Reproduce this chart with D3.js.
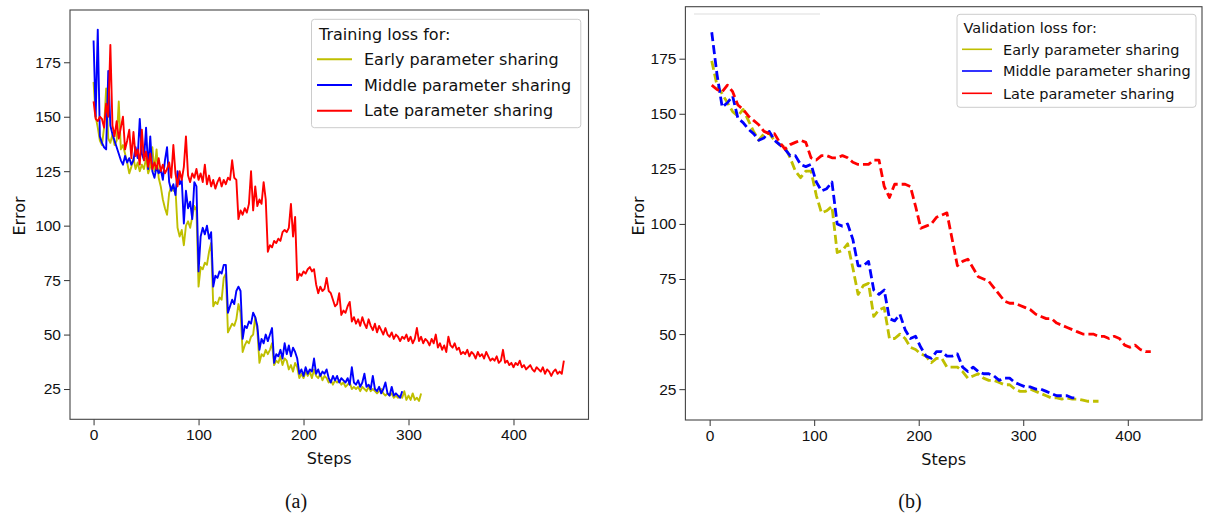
<!DOCTYPE html>
<html lang="en">
<head>
<meta charset="utf-8">
<script src="https://d3js.org/d3.v7.min.js"></script>
<style>
  body { margin: 0; background: #fff; }
  svg { display: block; font-family: "DejaVu Sans", sans-serif; }
  .tick text { font-size: 15.5px; fill: #111; }
  .tick line { stroke: #333; }
  .frame { fill: none; stroke: #444; stroke-width: 1.1; }
  .axlabel { font-size: 16px; fill: #111; }
  .caption { font-family: "Liberation Serif", serif; font-size: 20px; fill: #111; }
</style>
</head>
<body>
<svg id="chart" width="1205" height="516"></svg>
<script>
// ---- data ----
var seriesNames = ["Early parameter sharing", "Middle parameter sharing", "Late parameter sharing"];
var seriesColors = ["#bfbf00", "#0000ff", "#ff0000"];
var yTicks = [25, 50, 75, 100, 125, 150, 175];
var xTicks = [0, 100, 200, 300, 400];

// training loss, one value every 2 steps starting at step 0
var trainEvery = 2;
var trainEarly = [166,150,145,139,137,145,163,140,138,142,137,139,157,135,137,133,129,124,127,131,
  126,129,125,128,126,131,124,127,136,125,135,122,118,112,108,105,115,118,116,117,
  99,95,98,91,100,102,99,104,109,107,72,81,80,83,82,88,92,63,65,64,
  67,66,76,78,51,53,55,54,57,64,60,42,45,47,46,49,50,58,52,37,
  41,40,43,41,43,46,36,38,37,40,36,39,38,34,36,33,37,35,30,32,
  30,33,31,33,30,34,31,30,32,29,31,30,28,29,27,29,28,29,27,28,
  26,27,28,25,26,25,26,24,26,25,24,26,24,25,24,23,24,25,23,22,
  23,22,23,21,22,21,22,21,24,20,22,20,23,20,21,19.5,23];
var trainMiddle = [185,150,190,141,138,136,135,171,146,142,139,136,133,130,128,132,129,131,128,130,
  136,131,149,133,130,145,126,141,125,122,127,124,126,121,130,136,120,116,119,114,
  125,119,121,101,116,108,111,103,120,118,79,95,99,96,100,94,97,72,77,76,
  79,78,82,82,60,63,66,64,70,72,70,48,54,53,56,55,60,58,54,43,
  48,46,50,47,50,53,37,41,40,43,39,46,41,45,40,44,42,39,32,34,
  31,35,32,34,33,39,32,34,31,33,32,34,30,28,31,29,31,28,30,29,
  28,30,27,35,28,27,29,26,28,32,26,27,25,31,25,24,26,23,25,28,
  23,22,26,22,23,22,21,24];
var trainLate = [157,149,148,150,149,145,156,150,183,146,141,148,140,145,150,135,139,144,131,143,
  132,135,128,144,130,134,127,133,126,129,126,131,125,128,124,126,129,122,137,124,
  118,125,121,127,141,123,120,124,122,126,121,124,120,128,119,123,118,121,117,120,
  122,118,121,119,122,121,130,122,121,103,107,105,108,106,110,125,107,118,109,112,
  110,120,112,88,91,90,93,92,94,93,97,98,97,99,110,95,104,75,78,77,
  79,78,80,81,79,80,73,69,72,70,71,76,70,69,66,63,64,69,59,61,
  60,63,65,56,58,55,57,54,58,55,53,57,54,52,55,51,54,52,50,53,
  50,49,51,48,50,49,47,49,48,50,47,49,46,48,53,47,49,46,48,47,
  45,48,46,50,44,46,43,45,42,49,45,44,46,43,44,41,42,41,43,40,
  42,41,39,42,40,41,39,42,40,38,39,38,40,37,38,43,37,38,36,37,
  35,37,36,38,35,36,34,35,36,34,33,35,34,33,35,32,34,33,31,33,
  34,32,33,32,38];

// validation loss, one value every 5 steps starting at step 2
var valStart = 2, valEvery = 5;
var valEarly = [174,163,159,155,151,149,152,147,142,138,141,141,138,136,135,130,124,121,124,124,
  113,105,106,108,87,88,91,80,68,72,73,58,61,62,48,48,50,48,44,43,
  41,40,37,39,39,35,35,35,33,30,31,32,30,29,29,28,27,27,25,24,
  24,25,24,23,22,21,21,20.5,21,20.5,20.5,20,19.5,19.5,19.5];
var valMiddle = [187,168,153,155,158,148,146,143,141,138,139,142,138,136,134,131,131,127,126,127,
  119,115,116,119,100,99,100,93,81,81,83,70,68,70,57,56,59,52,48,49,
  44,40,39,42,42,40,40,41,35,33,35,33,32,32,31,29,30,30,28,27,
  26,26,25,25,24,23,22,22,22,21,21];
var valLate = [163,161,160,163,160,154,152,149,147,145,142,141,141,137,134,136,137,138,137,130,
  129,131,131,130,130,131,130,128,127,127,127,129,129,117,112,118,118,118,117,108,
  98,99,100,103,104,105,93,81,83,84,80,76,75,74,71,68,65,64,64,63,
  62,61,59,58,57,57,55,54,53,52,51,50,50,50,49,49,48,49,48,45,
  44,45,43,42,42];

var svg = d3.select("#chart");

function toPoints(values, start, every) {
  return values.map(function(v, i) { return [start + i * every, v]; });
}

function drawPanel(cfg) {
  var x = d3.scaleLinear().domain(cfg.xDomain).range([cfg.left, cfg.right]);
  var y = d3.scaleLinear().domain(cfg.yDomain).range([cfg.bottom, cfg.top]);
  var g = svg.append("g");

  g.append("g")
      .attr("transform", "translate(0," + cfg.bottom + ")")
      .call(d3.axisBottom(x).tickValues(xTicks).tickSize(6).tickPadding(4).tickSizeOuter(0))
      .call(function(a) { a.select(".domain").remove(); });
  g.append("g")
      .attr("transform", "translate(" + cfg.left + ",0)")
      .call(d3.axisLeft(y).tickValues(yTicks).tickSize(6).tickPadding(3).tickSizeOuter(0))
      .call(function(a) { a.select(".domain").remove(); });
  g.selectAll(".tick text").attr("font-family", null).attr("font-size", null);

  var clip = "clip" + cfg.id;
  g.append("clipPath").attr("id", clip)
    .append("rect").attr("x", cfg.left).attr("y", cfg.top)
      .attr("width", cfg.right - cfg.left).attr("height", cfg.bottom - cfg.top);

  var line = d3.line().x(function(d) { return x(d[0]); }).y(function(d) { return y(d[1]); });
  cfg.series.forEach(function(s, i) {
    g.append("path")
        .datum(toPoints(s, cfg.start, cfg.every))
        .attr("clip-path", "url(#" + clip + ")")
        .attr("fill", "none")
        .attr("stroke", seriesColors[i])
        .attr("stroke-width", cfg.lineWidth)
        .attr("stroke-dasharray", cfg.dash)
        .attr("stroke-linejoin", "round")
        .attr("d", line);
  });

  g.append("rect").attr("class", "frame")
      .attr("x", cfg.left).attr("y", cfg.top)
      .attr("width", cfg.right - cfg.left).attr("height", cfg.bottom - cfg.top);

  g.append("text").attr("class", "axlabel")
      .attr("x", (cfg.left + cfg.right) / 2).attr("y", cfg.bottom + 45)
      .attr("text-anchor", "middle").text("Steps");
  g.append("text").attr("class", "axlabel")
      .attr("transform", "translate(" + cfg.errX + "," + 216 + ") rotate(-90)")
      .attr("text-anchor", "middle").attr("dy", "0.35em").text("Error");
  g.append("text").attr("class", "caption")
      .attr("x", cfg.capX).attr("y", 508)
      .attr("text-anchor", "middle").text(cfg.caption);

  // legend
  var L = cfg.legend;
  var lg = g.append("g");
  lg.append("rect")
      .attr("x", L.x0).attr("y", L.y0).attr("width", L.x1 - L.x0).attr("height", L.y1 - L.y0)
      .attr("rx", 3).attr("fill", "#fff").attr("fill-opacity", 0.85)
      .attr("stroke", "#cccccc").attr("stroke-width", 1);
  lg.append("text").attr("x", L.titleX).attr("y", L.titleY)
      .attr("font-size", L.font).attr("fill", "#111").text(L.title);
  seriesNames.forEach(function(name, i) {
    var ry = L.rows[i];
    lg.append("line")
        .attr("x1", L.hx0).attr("x2", L.hx1).attr("y1", ry).attr("y2", ry)
        .attr("stroke", seriesColors[i]).attr("stroke-width", L.handleWidth);
    lg.append("text").attr("x", L.textX).attr("y", ry).attr("dy", "0.36em")
        .attr("font-size", L.font).attr("fill", "#111").text(name);
  });
}

drawPanel({
  id: "a", left: 70, right: 588.5, top: 10, bottom: 419.3,
  xDomain: [-22.45, 471.45], yDomain: [11.1, 199],
  series: [trainEarly, trainMiddle, trainLate], start: 0, every: trainEvery,
  lineWidth: 1.9, dash: null, errX: 19, capX: 296, caption: "(a)",
  legend: { x0: 311.5, x1: 580.8, y0: 19.3, y1: 127.7, font: "16px",
    title: "Training loss for:", titleX: 319, titleY: 40,
    rows: [59.3, 85, 110.7], hx0: 317, hx1: 352, textX: 364, handleWidth: 2 }
});

drawPanel({
  id: "b", left: 685.4, right: 1202, top: 6.7, bottom: 420,
  xDomain: [-23.2, 471], yDomain: [11, 198.6],
  series: [valEarly, valMiddle, valLate], start: valStart, every: valEvery,
  lineWidth: 2.8, dash: "9,4", errX: 638.5, capX: 910, caption: "(b)",
  legend: { x0: 957, x1: 1196, y0: 14.3, y1: 107.3, font: "14.5px",
    title: "Validation loss for:", titleX: 963.5, titleY: 33,
    rows: [49.3, 71, 93.3], hx0: 962, hx1: 992, textX: 1003, handleWidth: 1.6 }
});

// faint stray rule at the top left of panel (b)
svg.append("line").attr("x1", 694).attr("x2", 820).attr("y1", 14).attr("y2", 14)
    .attr("stroke", "#dddddd").attr("stroke-width", 1);
</script>
</body>
</html>
